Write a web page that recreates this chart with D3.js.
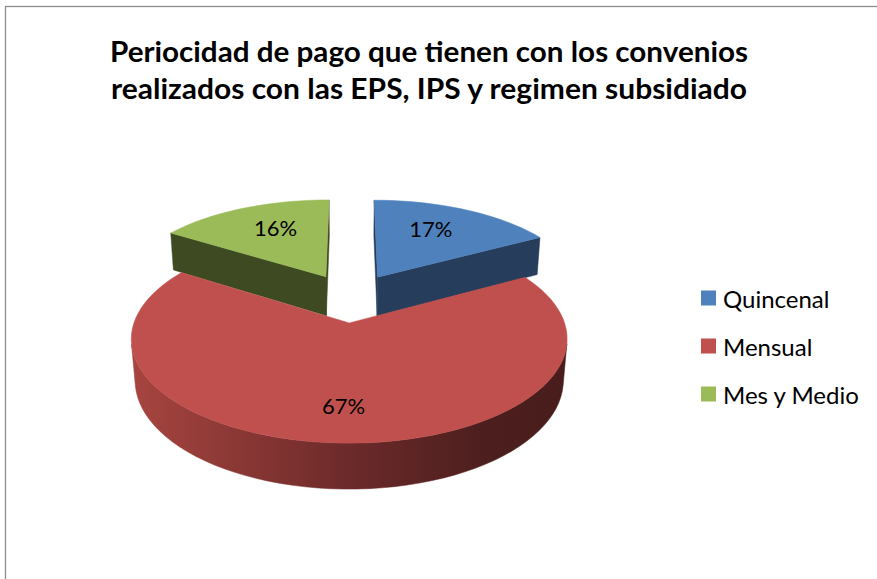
<!DOCTYPE html>
<html>
<head>
<meta charset="utf-8">
<script src="https://cdn.jsdelivr.net/npm/d3@7"></script>
<style>
  html, body { margin: 0; padding: 0; background: #fff; }
  svg { display: block; }
</style>
</head>
<body>
<div id="chart"></div>
<script>
// 3D exploded pie, Excel-2007 look. Perspective done by hand, angles from d3.pie.

const TITLE_LINES = [
  'Periocidad de pago que tienen con los convenios',
  'realizados con las EPS, IPS y regimen subsidiado',
];
const CATEGORIES = ['Quincenal', 'Mensual', 'Mes y Medio'];
const VALUES = [17, 67, 16];
const LABELS = ['17%', '67%', '16%'];

const TOP_COLORS = ['#4F81BD', '#C0504D', '#9BBB59'];
const SIDE_COLORS = ['#263D5B', 'url(#redWall)', '#3E4A21'];

const W = 877, H = 579;

const svg = d3.select('#chart').append('svg')
  .attr('width', W).attr('height', H)
  .attr('viewBox', `0 0 ${W} ${H}`);

const defs = svg.append('defs');
const grad = defs.append('linearGradient')
  .attr('id', 'redWall')
  .attr('gradientUnits', 'userSpaceOnUse')
  .attr('x1', 135).attr('x2', 565).attr('y1', 0).attr('y2', 0);
grad.append('stop').attr('offset', 0).attr('stop-color', '#A6443F');
grad.append('stop').attr('offset', 0.5).attr('stop-color', '#6C2A2A');
grad.append('stop').attr('offset', 0.82).attr('stop-color', '#4C1E1E');
grad.append('stop').attr('offset', 1).attr('stop-color', '#4A1D1D');

// chart frame (runs past right / bottom edge of the picture)
svg.append('rect')
  .attr('x', 5.5).attr('y', 6.5)
  .attr('width', W + 10).attr('height', H + 10)
  .attr('fill', 'none').attr('stroke', '#8C8C8C').attr('stroke-width', 1.3);

// --- title ---
const titleG = svg.append('g');
const titleY = [62, 99];
const titleW = [638, 636];
TITLE_LINES.forEach((t, i) => {
  titleG.append('text')
    .attr('x', 429).attr('y', titleY[i])
    .attr('text-anchor', 'middle')
    .attr('font-family', 'Lato, "Open Sans", sans-serif')
    .attr('font-weight', 'bold')
    .attr('font-size', 29)
    .attr('textLength', titleW[i])
    .attr('lengthAdjust', 'spacingAndGlyphs')
    .attr('fill', '#000')
    .text(t);
});

// --- 3D projection ---
const S = 207;           // radius in px
const elev = 27 * Math.PI / 180;
const sinE = Math.sin(elev), cosE = Math.cos(elev);
const DIST = 6.0;        // camera distance (in radii)
const DEPTH = 0.22;      // pie thickness
const EXPLODE = 0.26;
const cx = 351, cy = 297.5;

function proj(X, Z, h) {
  const v = Z * sinE - h * cosE;
  const w = Z * cosE + h * sinE;
  const k = DIST / (DIST - w);
  return [cx + S * X * k, cy + S * v * k];
}

const pie = d3.pie().sort(null).value(d => d)(VALUES);

const slices = pie.map((p, i) => {
  const mid = (p.startAngle + p.endAngle) / 2;
  return {
    i, a0: p.startAngle, a1: p.endAngle, mid,
    ox: EXPLODE * Math.sin(mid),
    oz: -EXPLODE * Math.cos(mid),
  };
});

const line = d3.line();
const N = 120;

function pt(s, a, r, h) {
  return proj(s.ox + r * Math.sin(a), s.oz - r * Math.cos(a), h);
}

function arcPts(s, a0, a1, h) {
  const n = Math.max(2, Math.ceil(N * (a1 - a0) / (2 * Math.PI)));
  return d3.range(n + 1).map(j => pt(s, a0 + (a1 - a0) * j / n, 1, h));
}

function wallVisible(s, a) {
  const X = s.ox + Math.sin(a), Z = s.oz - Math.cos(a);
  return Math.sin(a) * (-X) + (-Math.cos(a)) * (DIST * cosE - Z) > 0;
}

function cutVisible(s, a, isStart) {
  const nx = (isStart ? -1 : 1) * Math.cos(a);
  const nz = (isStart ? -1 : 1) * Math.sin(a);
  const X = s.ox + 0.5 * Math.sin(a), Z = s.oz - 0.5 * Math.cos(a);
  return nx * (-X) + nz * (DIST * cosE - Z) > 0;
}

const pieG = svg.append('g');

// back slices first
const order = slices.slice().sort((a, b) => a.oz - b.oz);

order.forEach(s => {
  const g = pieG.append('g');
  const side = SIDE_COLORS[s.i];

  // radial cut faces
  [[s.a0, true], [s.a1, false]].forEach(([a, isStart]) => {
    if (!cutVisible(s, a, isStart)) return;
    const quad = [
      proj(s.ox, s.oz, 0), pt(s, a, 1, 0),
      pt(s, a, 1, -DEPTH), proj(s.ox, s.oz, -DEPTH),
    ];
    g.append('path').attr('d', line(quad) + 'Z')
      .attr('fill', side).attr('stroke', side).attr('stroke-width', 0.5);
  });

  // outer wall, visible stretches only
  const steps = 240;
  let runs = [], cur = null;
  for (let j = 0; j <= steps; j++) {
    const a = s.a0 + (s.a1 - s.a0) * j / steps;
    if (wallVisible(s, a)) {
      if (!cur) { cur = [a, a]; runs.push(cur); }
      cur[1] = a;
    } else cur = null;
  }
  runs.forEach(([b0, b1]) => {
    const top = arcPts(s, b0, b1, 0);
    const bot = arcPts(s, b0, b1, -DEPTH).reverse();
    g.append('path').attr('d', line(top.concat(bot)) + 'Z')
      .attr('fill', side).attr('stroke', side).attr('stroke-width', 0.5);
  });

  // top face
  const face = [proj(s.ox, s.oz, 0)].concat(arcPts(s, s.a0, s.a1, 0));
  g.append('path').attr('d', line(face) + 'Z')
    .attr('fill', TOP_COLORS[s.i])
    .attr('stroke', TOP_COLORS[s.i]).attr('stroke-width', 0.5);
});

// data labels (small slices sit a bit higher, as Excel's best-fit does)
slices.forEach(s => {
  const big = VALUES[s.i] > 50;
  const [x, y] = pt(s, s.mid, big ? 0.72 : 0.58, 0);
  pieG.append('text')
    .attr('x', x).attr('y', big ? y : y - 8)
    .attr('text-anchor', 'middle')
    .attr('dominant-baseline', 'central')
    .attr('font-family', 'Lato, "Open Sans", sans-serif')
    .attr('font-size', 22)
    .attr('fill', '#000')
    .text(LABELS[s.i]);
});

// --- legend ---
const legend = svg.append('g').attr('transform', 'translate(701, 298)');
CATEGORIES.forEach((c, i) => {
  const row = legend.append('g').attr('transform', `translate(0, ${i * 48})`);
  row.append('rect')
    .attr('x', 0).attr('y', -7.5).attr('width', 15).attr('height', 15)
    .attr('fill', TOP_COLORS[i]);
  row.append('text')
    .attr('x', 22).attr('y', 0)
    .attr('dominant-baseline', 'central')
    .attr('font-family', 'Lato, "Open Sans", sans-serif')
    .attr('font-size', 24)
    .attr('fill', '#000')
    .text(c);
});
</script>
</body>
</html>
